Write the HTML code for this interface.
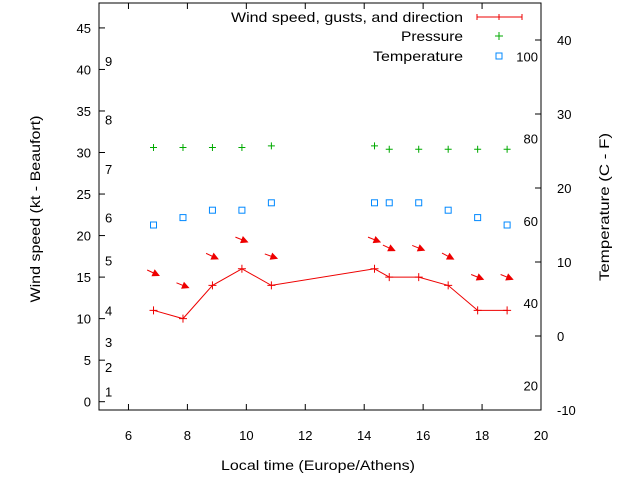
<!DOCTYPE html>
<html><head><meta charset="utf-8"><style>
body{margin:0;background:#fff}
svg{font-family:"Liberation Sans",sans-serif;font-size:13px}
.big{font-size:14px}
</style></head><body>
<svg id="c" width="640" height="480">
<g id="g"></g>
</svg>
<script>
const times=[6.85,7.85,8.85,9.85,10.85,14.35,14.85,15.85,16.85,17.85,18.85];
const wind=[11,10,14,16,14,16,15,15,14,11,11];
const pressure=[30.6,30.6,30.6,30.6,30.8,30.8,30.4,30.4,30.4,30.4,30.4];
const temperature=[15,16,17,17,18,18,18,18,17,16,15];
const arrowY=[15.5,14,17.5,19.5,17.5,19.5,18.5,18.5,17.5,15,15];
const arrowAngle=[25,22,25,22,20,22,25,22,28,22,22];
const xTicks=[6,8,10,12,14,16,18,20];
const yTicks=[0,5,10,15,20,25,30,35,40,45];
const y2Ticks=[-10,0,10,20,30,40];
const beaufort=[[1,1.2],[2,4.2],[3,7.2],[4,11],[5,17],[6,22.2],[7,28],[8,34],[9,41]];
const fahrLabels=[100,80,60,40,20];
const L=99,R=541,T=3,B=410;
const X=v=>L+(v-5)/15*(R-L);
const Y=v=>B-(v+1)/49*(B-T);
const Y2=v=>B-(v+10)/55*(B-T);
const F2Y=f=>Y2((f-32)*5/9);
const g=document.getElementById('g');
function el(t,a,txt){const e=document.createElementNS('http://www.w3.org/2000/svg',t);for(const k in a)e.setAttribute(k,a[k]);if(txt!=null)e.textContent=txt;g.appendChild(e);return e;}
let e;
e=el('rect',{x:L,y:T,width:R-L,height:B-T,fill:'none',stroke:'#000'});


xTicks.forEach(v=>{
 el('line',{x1:X(v),x2:X(v),y1:B,y2:B-6,stroke:'#000'});
 el('line',{x1:X(v),x2:X(v),y1:T,y2:T+6,stroke:'#000'});
 e=el('text',{x:X(v),y:B+30,'text-anchor':'middle'},v);
 
 
});
yTicks.forEach(v=>{
 el('line',{x1:L,x2:L+6,y1:Y(v),y2:Y(v),stroke:'#000'});
 e=el('text',{x:L-8,y:Y(v)+5,'text-anchor':'end'},v);
 
 
});
y2Ticks.forEach(v=>{
 el('line',{x1:R,x2:R-6,y1:Y2(v),y2:Y2(v),stroke:'#000'});
 e=el('text',{x:R+16,y:Y2(v)+5,'text-anchor':'start'},v);
 
 
});
beaufort.forEach(b=>{
 e=el('text',{x:105,y:Y(b[1])+5},b[0]);
 
 
});
fahrLabels.forEach(f=>{
 e=el('text',{x:538,y:F2Y(f)+5,'text-anchor':'end'},f);
 
 
});
e=el('text',{x:221,y:470,class:'big',textLength:194,lengthAdjust:'spacingAndGlyphs'},'Local time (Europe/Athens)');


e=el('text',{x:0,y:0,class:'big','text-anchor':'middle',textLength:187,lengthAdjust:'spacingAndGlyphs',transform:'translate(40,209) rotate(-90)'},'Wind speed (kt - Beaufort)');


e=el('text',{x:0,y:0,class:'big','text-anchor':'middle',textLength:148,lengthAdjust:'spacingAndGlyphs',transform:'translate(609,207) rotate(-90)'},'Temperature (C - F)');


// legend
[['Wind speed, gusts, and direction',22,232],['Pressure',41,62],['Temperature',61,90]].forEach(l=>{
 e=el('text',{x:463-l[2],y:l[1],class:'big',textLength:l[2],lengthAdjust:'spacingAndGlyphs'},l[0]);
 
 
});
el('path',{d:'M477,17H522M477,14V20M499,14V20M522,14V20',stroke:'#e00',fill:'none'});
el('path',{d:'M495,36H503M499,32V40',stroke:'#0a0'});
el('rect',{x:496,y:53,width:6,height:6,fill:'none',stroke:'#08f'});
// wind line
e=el('polyline',{points:times.map((t,i)=>X(t)+','+Y(wind[i])).join(' '),fill:'none',stroke:'#e00'});


times.forEach((t,i)=>{
 e=el('path',{d:`M${X(t)-4},${Y(wind[i])}h8M${X(t)},${Y(wind[i])-4}v8`,stroke:'#e00'});
 
 
 e=el('path',{d:`M${X(t)-3.5},${Y(pressure[i])}h7M${X(t)},${Y(pressure[i])-3.5}v7`,stroke:'#0a0'});
 
 
 e=el('rect',{x:X(t)-3,y:Y2(temperature[i])-3,width:6,height:6,fill:'none',stroke:'#08f'});
 
 
 const a=arrowAngle[i]*Math.PI/180,cx=X(t),cy=Y(arrowY[i]);
 const dx=Math.cos(a),dy=Math.sin(a);
 const x0=cx-7*dx,y0=cy-7*dy,x1=cx+6*dx,y1=cy+6*dy;
 const bx=x1-6*dx,by=y1-6*dy;
 e=el('path',{d:`M${x0},${y0}L${x1},${y1}M${x1},${y1}L${bx-3*dy},${by+3*dx}L${bx+3*dy},${by-3*dx}Z`,stroke:'#e00',fill:'#e00'});
 
 
});
</script>
</body></html>
